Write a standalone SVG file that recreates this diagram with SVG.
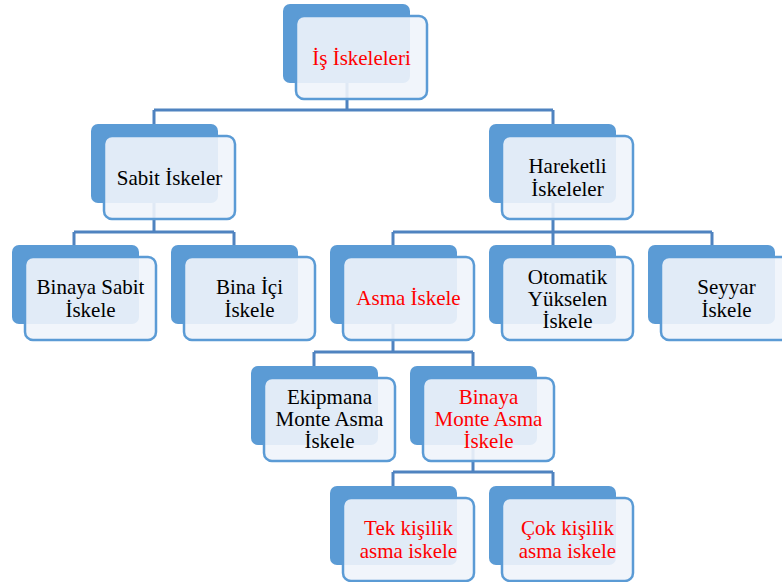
<svg xmlns="http://www.w3.org/2000/svg" width="782" height="582" viewBox="0 0 782 582">
<style>
.back{fill:#5b9bd5;}
.front{fill:#eff4fb;fill-opacity:0.9;stroke:#5b9bd5;stroke-width:2.5;}
.conn{fill:none;stroke:#4f83c0;stroke-width:3;}
text{font-family:"Liberation Serif","Times New Roman",serif;font-size:21px;text-anchor:middle;fill:#000;}
text.red{fill:#ff0000;}
</style>
<rect width="782" height="582" fill="#ffffff"/>
<g id="connectors">
<path class="conn" d="M347,83 V110 M154,110 H553 M154,110 V124 M553,110 V124"/>
<path class="conn" d="M154,203 V232 M74,232 H234 M74,232 V245 M234,232 V245"/>
<path class="conn" d="M553,203 V232 M393,232 H712 M393,232 V245 M553,232 V245 M712,232 V245"/>
<path class="conn" d="M393,324 V352 M314,352 H473 M314,352 V366 M473,352 V366"/>
<path class="conn" d="M473,445 V472 M393,472 H553 M393,472 V486 M553,472 V486"/>
</g>
<g id="n-is-iskeleleri">
<rect class="back" x="283" y="4" width="127" height="79" rx="7"/>
<rect class="front" x="296" y="16" width="131" height="83" rx="8"/>
<text class="red" x="361.5" y="64.5">İş İskeleleri</text>
</g>
<g id="n-sabit">
<rect class="back" x="91" y="124" width="127" height="79" rx="7"/>
<rect class="front" x="104" y="136" width="131" height="83" rx="8"/>
<text x="169.5" y="184.5">Sabit İskeler</text>
</g>
<g id="n-hareketli">
<rect class="back" x="489" y="124" width="127" height="79" rx="7"/>
<rect class="front" x="502" y="136" width="131" height="83" rx="8"/>
<text x="567.5" y="173">Hareketli</text>
<text x="567.5" y="196">İskeleler</text>
</g>
<g id="n-binaya-sabit">
<rect class="back" x="12" y="245" width="127" height="79" rx="7"/>
<rect class="front" x="25" y="257" width="131" height="83" rx="8"/>
<text x="90.5" y="294">Binaya Sabit</text>
<text x="90.5" y="317">İskele</text>
</g>
<g id="n-bina-ici">
<rect class="back" x="171" y="245" width="127" height="79" rx="7"/>
<rect class="front" x="184" y="257" width="131" height="83" rx="8"/>
<text x="249.5" y="294">Bina İçi</text>
<text x="249.5" y="317">İskele</text>
</g>
<g id="n-asma">
<rect class="back" x="330" y="245" width="127" height="79" rx="7"/>
<rect class="front" x="343" y="257" width="131" height="83" rx="8"/>
<text class="red" x="408.5" y="305">Asma İskele</text>
</g>
<g id="n-otomatik">
<rect class="back" x="489" y="245" width="127" height="79" rx="7"/>
<rect class="front" x="502" y="257" width="131" height="83" rx="8"/>
<text x="567.5" y="283.5">Otomatik</text>
<text x="567.5" y="305.5">Yükselen</text>
<text x="567.5" y="327.5">İskele</text>
</g>
<g id="n-seyyar">
<rect class="back" x="648" y="245" width="127" height="79" rx="7"/>
<rect class="front" x="661" y="257" width="131" height="83" rx="8"/>
<text x="726.5" y="294">Seyyar</text>
<text x="726.5" y="317">İskele</text>
</g>
<g id="n-ekipmana">
<rect class="back" x="251" y="366" width="127" height="79" rx="7"/>
<rect class="front" x="264" y="378" width="131" height="83" rx="8"/>
<text x="329.5" y="404">Ekipmana</text>
<text x="329.5" y="426">Monte Asma</text>
<text x="329.5" y="448">İskele</text>
</g>
<g id="n-binaya-monte">
<rect class="back" x="410" y="366" width="127" height="79" rx="7"/>
<rect class="front" x="423" y="378" width="131" height="83" rx="8"/>
<text class="red" x="488.5" y="404">Binaya</text>
<text class="red" x="488.5" y="426">Monte Asma</text>
<text class="red" x="488.5" y="448">İskele</text>
</g>
<g id="n-tek">
<rect class="back" x="330" y="486" width="127" height="79" rx="7"/>
<rect class="front" x="343" y="498" width="131" height="83" rx="8"/>
<text class="red" x="408.5" y="534.5">Tek kişilik</text>
<text class="red" x="408.5" y="557.5">asma iskele</text>
</g>
<g id="n-cok">
<rect class="back" x="489" y="486" width="127" height="79" rx="7"/>
<rect class="front" x="502" y="498" width="131" height="83" rx="8"/>
<text class="red" x="567.5" y="534.5">Çok kişilik</text>
<text class="red" x="567.5" y="557.5">asma iskele</text>
</g>
</svg>
